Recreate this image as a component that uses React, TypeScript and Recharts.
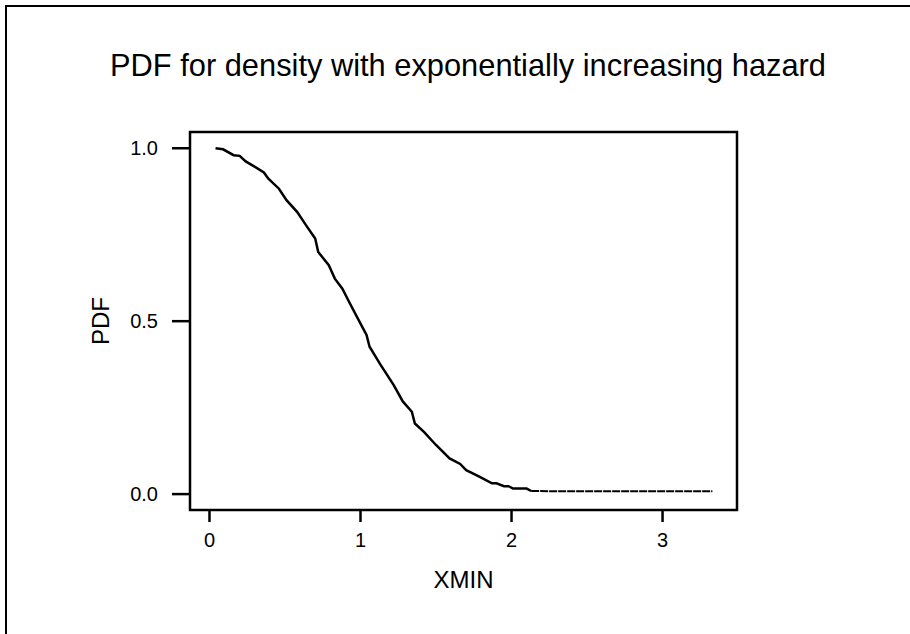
import React from "react";
import {
  LineChart,
  Line,
  XAxis,
  YAxis,
  ReferenceArea,
} from "recharts";

// values
const xmin = [
  0.04, 0.09, 0.16, 0.2, 0.24, 0.29, 0.36, 0.39, 0.46, 0.51, 0.58, 0.64, 0.7,
  0.72, 0.79, 0.83, 0.88, 0.93, 1.0, 1.04, 1.06, 1.13, 1.22, 1.28, 1.34, 1.36,
  1.42, 1.5, 1.59, 1.66, 1.7, 1.79, 1.87, 1.9, 1.95, 1.98, 2.01, 2.1, 2.13,
];
const pdf = [
  1.0, 0.997, 0.98, 0.978, 0.962, 0.949, 0.93, 0.912, 0.883, 0.85, 0.816,
  0.777, 0.739, 0.7, 0.662, 0.623, 0.594, 0.551, 0.493, 0.46, 0.426, 0.376,
  0.315, 0.268, 0.238, 0.204, 0.18, 0.142, 0.103, 0.087, 0.069, 0.05, 0.031,
  0.031, 0.023, 0.023, 0.016, 0.016, 0.009,
];
const tailX = [2.13, 2.3, 2.5, 2.7, 2.9, 3.1, 3.33];
const tailPdf = [0.009, 0.008, 0.008, 0.008, 0.008, 0.008, 0.008];

const xTicks = [0, 1, 2, 3];
const yTicks = [0, 0.5, 1];
const xDomain: [number, number] = [-0.129, 3.493];
const yDomain: [number, number] = [-0.046, 1.047];

const data = [
  ...xmin.map((x, i) => ({ x, pdf: pdf[i] })),
  ...tailX.map((x, i) => ({ x, tail: tailPdf[i] })),
];

const font = "'Liberation Sans', Arial, sans-serif";
const tickStyle = {
  fill: "#000",
  fontSize: 20,
  fontFamily: font,
  style: { fontSize: 20, fontFamily: font },
};

export default function App() {
  return (
    <div
      style={{
        position: "absolute",
        left: 0,
        top: 0,
        width: 910,
        height: 634,
        overflow: "hidden",
        background: "#fff",
      }}
    >
      <div
        style={{
          position: "absolute",
          left: 5,
          top: 5,
          width: 1000,
          height: 1000,
          borderLeft: "2px solid #000",
          borderTop: "2px solid #000",
        }}
      />
      <svg
        width={910}
        height={120}
        style={{ position: "absolute", left: 0, top: 0 }}
      >
        <text
          x={468}
          y={76}
          textAnchor="middle"
          fontSize={32}
          fontFamily={font}
          textLength={716}
          lengthAdjust="spacingAndGlyphs"
          fill="#000"
        >
          PDF for density with exponentially increasing hazard
        </text>
      </svg>
      <div style={{ position: "absolute", left: 0, top: 0 }}>
        <LineChart
          width={910}
          height={634}
          data={data}
          margin={{ top: 132, right: 173, bottom: 34, left: 80 }}
        >
          <XAxis
            type="number"
            dataKey="x"
            domain={xDomain}
            ticks={xTicks}
            allowDataOverflow
            height={90}
            axisLine={false}
            tickSize={12}
            tickMargin={11}
            fontSize={20}
            fontFamily={font}
            tickLine={{ stroke: "#000", strokeWidth: 2.5 }}
            tick={tickStyle}
            label={{
              value: "XMIN",
              position: "insideBottom",
              offset: 12,
              style: { fill: "#000", fontSize: 24, fontFamily: font },
            }}
          />
          <YAxis
            type="number"
            domain={yDomain}
            ticks={yTicks}
            allowDataOverflow
            width={110}
            axisLine={false}
            tickSize={18}
            tickMargin={14}
            fontSize={20}
            fontFamily={font}
            tickLine={{ stroke: "#000", strokeWidth: 2.5 }}
            tick={tickStyle}
            tickFormatter={(v: number) => v.toFixed(1)}
            label={{
              value: "PDF",
              position: "insideLeft",
              angle: -90,
              offset: 20,
              style: {
                fill: "#000",
                fontSize: 24,
                fontFamily: font,
                textAnchor: "middle",
              },
            }}
          />
          <ReferenceArea
            x1={xDomain[0]}
            x2={xDomain[1]}
            y1={yDomain[0]}
            y2={yDomain[1]}
            fill="none"
            fillOpacity={0}
            stroke="#000"
            strokeWidth={2.5}
            ifOverflow="visible"
          />
          <Line
            dataKey="pdf"
            type="linear"
            stroke="#000"
            strokeWidth={2.5}
            dot={false}
            isAnimationActive={false}
          />
          <Line
            dataKey="tail"
            type="linear"
            stroke="#000"
            strokeWidth={2}
            strokeDasharray="8 1"
            dot={false}
            isAnimationActive={false}
          />
        </LineChart>
      </div>
    </div>
  );
}
